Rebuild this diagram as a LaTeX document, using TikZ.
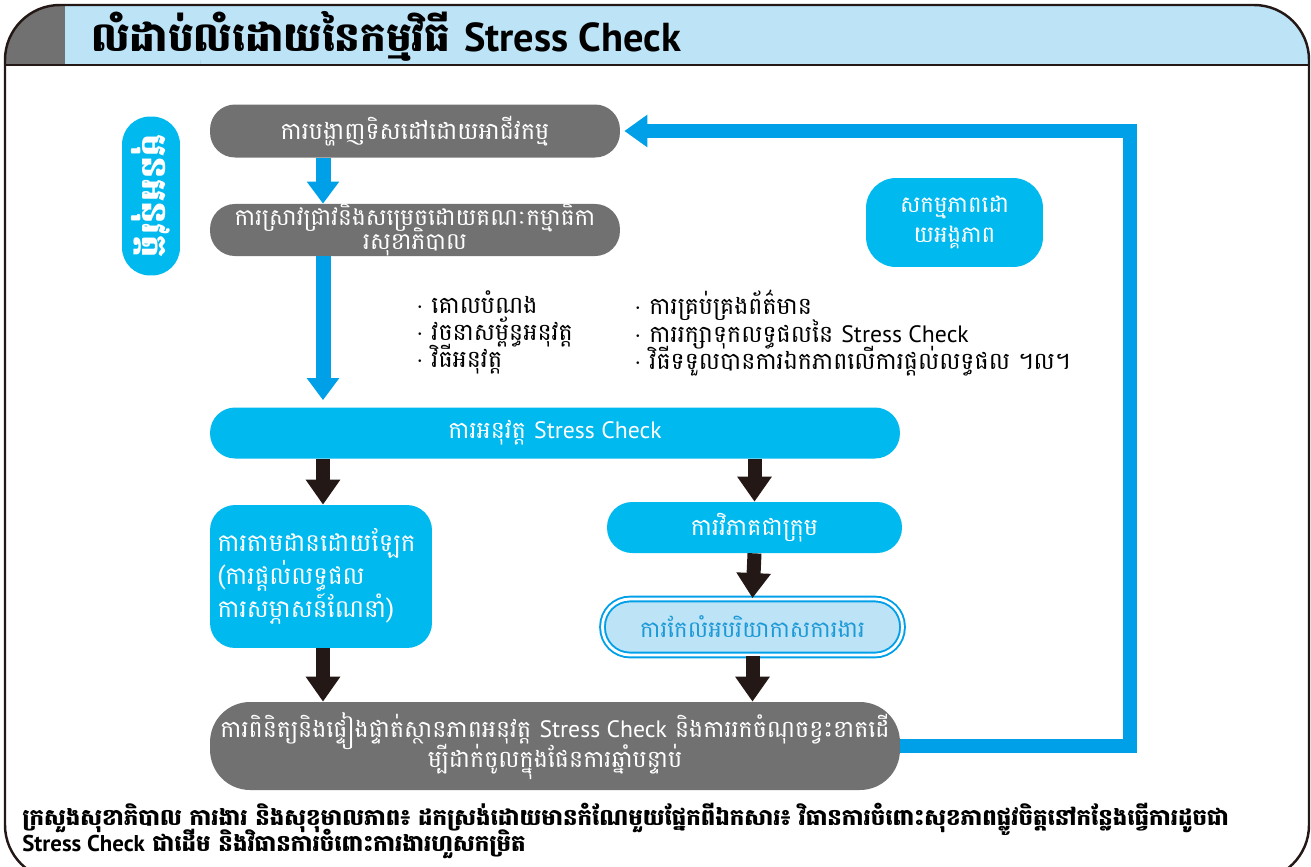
\documentclass[tikz,border=0pt]{standalone}
\usepackage{fontspec}
\usetikzlibrary{arrows.meta,positioning}
\setmainfont[Script=Khmer]{Battambang}
\newfontfamily\latinfont{PT Sans}
\newcommand{\stresscheck}{{\latinfont Stress Check}}
\setlength{\lineskiplimit}{-30pt}

\definecolor{titleblue}{HTML}{BDE3F7}
\definecolor{cornergray}{HTML}{727171}
\definecolor{boxgray}{HTML}{727171}
\definecolor{boxcyan}{HTML}{00B9EF}
\definecolor{flowblue}{HTML}{00A0E9}
\definecolor{darkline}{HTML}{231815}
\definecolor{textblue}{HTML}{1D9AD6}

\tikzset{
  graybox/.style={fill=boxgray, text=white, rounded corners=0.5cm, inner sep=0pt,
    align=center, font=\fontsize{13.5}{15}\selectfont},
  cyanbox/.style={fill=boxcyan, text=white, rounded corners=0.5cm, inner sep=0pt,
    align=center, font=\fontsize{13.5}{15}\selectfont},
  workbox/.style={fill=titleblue, text=textblue, draw=flowblue, double=white,
    double distance=1.6pt, line width=1.1pt, rounded corners=0.55cm, inner sep=0pt,
    font=\fontsize{13}{15}\selectfont},
  bullets/.style={align=left, inner sep=0pt, font=\fontsize{13.5}{15.5}\selectfont},
  bluearrow/.style={draw=flowblue, line width=0.3cm,
    -{Triangle[width=0.62cm,length=0.44cm]}},
  blackarrow/.style={draw=darkline, line width=0.28cm,
    -{Triangle[width=0.66cm,length=0.5cm]}},
  feedback/.style={draw=flowblue, line width=0.28cm,
    -{Triangle[width=0.62cm,length=0.46cm]}}
}

\begin{document}
\begin{tikzpicture}[x=0.02cm,y=-0.02cm]
  \useasboundingbox (0,0) rectangle (1311,866);
  \clip (0,0) rectangle (1311,866);

  % frame and title band
  \begin{scope}
    \clip (5,5) rectangle (1310,65);
    \fill[titleblue, rounded corners=1.1cm] (5,5) rectangle (1310,200);
    \fill[cornergray, rounded corners=1.1cm] (5,5) rectangle (200,200);
    \fill[titleblue] (65,5) rectangle (200,65);
  \end{scope}
  \draw[darkline, line width=1.4pt] (5,65) -- (1310,65);
  \draw[darkline, line width=1.4pt, rounded corners=1.1cm] (5,5) rectangle (1309,880);
  \node[anchor=west, font=\fontsize{23}{25}\selectfont\bfseries] (title) at (85,36)
    {លំដាប់លំដោយនៃកម្មវិធី {\latinfont Stress Check}};

  % step tag
  \node[fill=boxcyan, text=white, rotate=-90, rounded corners=0.56cm, inner sep=0pt,
    minimum width=3.18cm, minimum height=1.16cm,
    font=\fontsize{20}{22}\selectfont\bfseries] (prep) at (151,196) {មុនអនុវត្ត};

  % boxes
  \node[graybox, minimum width=8.2cm, minimum height=1.06cm] (guide) at (415,131)
    {ការបង្ហាញទិសដៅដោយអាជីវកម្ម};
  \node[graybox, minimum width=8.2cm, minimum height=1.0cm,
    font=\fontsize{13.2}{13.6}\selectfont] (review) at (415,230)
    {ការស្រាវជ្រាវនិងសម្រេចដោយគណៈកម្មាធិកា\\រសុខាភិបាល};
  \node[cyanbox, minimum width=3.54cm, minimum height=1.78cm, rounded corners=0.6cm,
    font=\fontsize{13}{17}\selectfont] (unit) at (954.5,222.5)
    {សកម្មភាពដោ\\យអង្គភាព};

  \node[bullets, anchor=north west] (aims) at (416,290)
    {$\cdot$ គោលបំណង\\$\cdot$ វចនាសម្ព័ន្ធអនុវត្ត\\$\cdot$ វិធីអនុវត្ត};
  \node[bullets, anchor=north west] (rules) at (634,290)
    {$\cdot$ ការគ្រប់គ្រងព័ត៌មាន\\$\cdot$ ការរក្សាទុកលទ្ធផលនៃ \stresscheck\\$\cdot$ វិធីទទួលបានការឯកភាពលើការផ្តល់លទ្ធផល ។ល។};

  \node[cyanbox, minimum width=13.8cm, minimum height=1.02cm] (run) at (555,433)
    {ការអនុវត្ត \stresscheck};
  \node[cyanbox, minimum width=4.44cm, minimum height=2.86cm, text width=4.14cm,
    align=left, font=\fontsize{14}{16.6}\selectfont] (follow) at (321,576.5)
    {ការតាមដានដោយឡែក\\(ការផ្តល់លទ្ធផល\\ការសម្ភាសន៍ណែនាំ)};
  \node[cyanbox, minimum width=5.9cm, minimum height=1.02cm] (group) at (754.5,527.5)
    {ការវិភាគជាក្រុម};
  \node[workbox, minimum width=6.0cm, minimum height=1.12cm] (improve) at (752.5,627)
    {ការកែលំអបរិយាកាសការងារ};
  \node[graybox, minimum width=13.8cm, minimum height=1.76cm, rounded corners=0.8cm,
    font=\fontsize{13.5}{16.8}\selectfont] (check) at (555,746)
    {ការពិនិត្យនិងផ្ទៀងផ្ទាត់ស្ថានភាពអនុវត្ត \stresscheck{} និងការរកចំណុចខ្វះខាតដើ\\ម្បីដាក់ចូលក្នុងផែនការឆ្នាំបន្ទាប់};

  % source
  \node[anchor=base west, align=left, inner sep=0pt,
    font=\fontsize{13}{14.8}\selectfont\bfseries] (source) at (22,851)
    {ក្រសួងសុខាភិបាល ការងារ និងសុខុមាលភាព៖ ដកស្រង់ដោយមានកំណែមួយផ្នែកពីឯកសារ៖ វិធានការចំពោះសុខភាពផ្លូវចិត្តនៅកន្លែងធ្វើការដូចជា\\\stresscheck{} ជាដើម និងវិធានការចំពោះការងារហួសកម្រិត};

  % arrows
  \coordinate (lane) at (323,0);
  \coordinate (fb) at (1130,131);
  \draw[bluearrow] (guide.south -| lane) -- (review.north -| lane);
  \draw[bluearrow, shorten >=0.14cm] (review.south -| lane) -- (run.north -| lane);
  \draw[blackarrow] (run.south -| lane) -- (follow.north -| lane);
  \draw[blackarrow] (run.south -| group) -- (group.north);
  \draw[blackarrow] (group.south) -- (improve.north);
  \draw[blackarrow] (follow.south -| lane) -- (check.north -| lane);
  \draw[blackarrow] (improve.south) -- (check.north -| improve);
  \draw[feedback, shorten >=0.08cm] (check.east) -| (fb) -- (guide.east);
\end{tikzpicture}
\end{document}
